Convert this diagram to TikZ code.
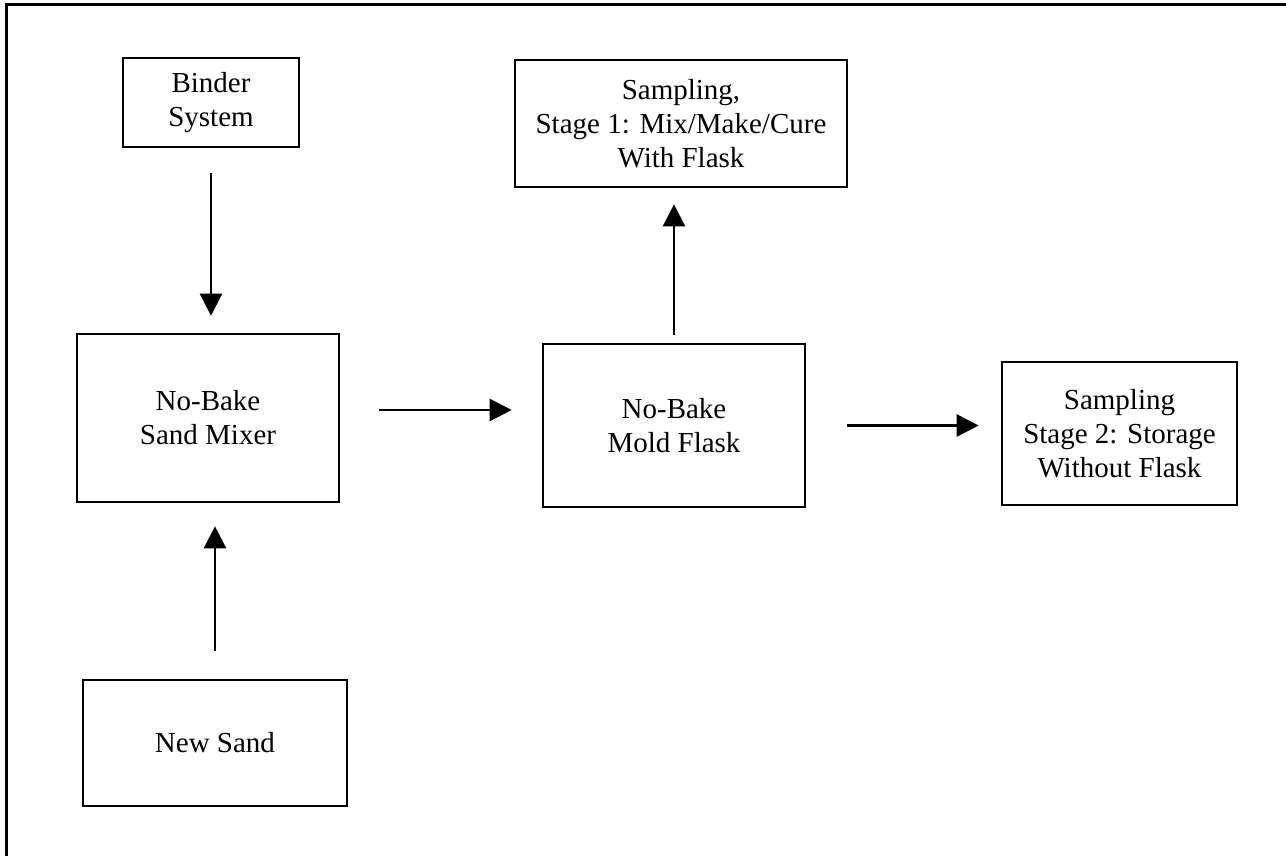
\documentclass[tikz,border=0pt]{standalone}
\usepackage{fontspec}
\setmainfont{Liberation Serif}
\usetikzlibrary{arrows.meta}

\begin{document}
\begin{tikzpicture}[x=1pt,y=-1pt,
    >={Triangle[length=22pt,width=22pt]},
    box/.style={draw,line width=2.6pt,align=center,inner sep=0pt,
        font=\fontsize{29}{34}\selectfont},
    flow/.style={->,line width=2.4pt}]
  \useasboundingbox (0,0) rectangle (1286,855);
  \clip (0,0) rectangle (1286,855);
  % outer frame, runs off the page
  \draw[line width=3pt] (6,4) rectangle (1300,870);

  \node[box,minimum width=176pt,minimum height=89pt]
    (binder) at (211,102.5) {Binder\\System};
  \node[box,minimum width=262pt,minimum height=168pt]
    (mixer) at (208,418) {No-Bake\\Sand Mixer};
  \node[box,minimum width=264pt,minimum height=126pt]
    (newsand) at (215,743) {New Sand};
  \node[box,minimum width=262pt,minimum height=163pt]
    (mold) at (674,425.5) {No-Bake\\Mold Flask};
  \node[box,minimum width=332pt,minimum height=127pt]
    (stage1) at (681,123.5) {Sampling,\\Stage 1: Mix/Make/Cure\\With Flask};
  \node[box,minimum width=235pt,minimum height=143pt]
    (stage2) at (1119.5,433.5) {Sampling\\Stage 2: Storage\\Without Flask};

  \path[flow]
    (binder.south)  edge[shorten <=25pt,shorten >=17pt] (binder.south |- mixer.north)
    (newsand.north) edge[shorten <=28pt,shorten >=23pt] (newsand.north |- mixer.south)
    ([yshift=8pt]mixer.east) edge[shorten <=39pt,shorten >=30pt] ([yshift=8pt]mixer.east -| mold.west)
    (mold.north)    edge[shorten <=8pt,shorten >=16pt]  (mold.north |- stage1.south)
    (mold.east)     edge[shorten <=41pt,shorten >=22pt] (mold.east -| stage2.west);
\end{tikzpicture}
\end{document}
